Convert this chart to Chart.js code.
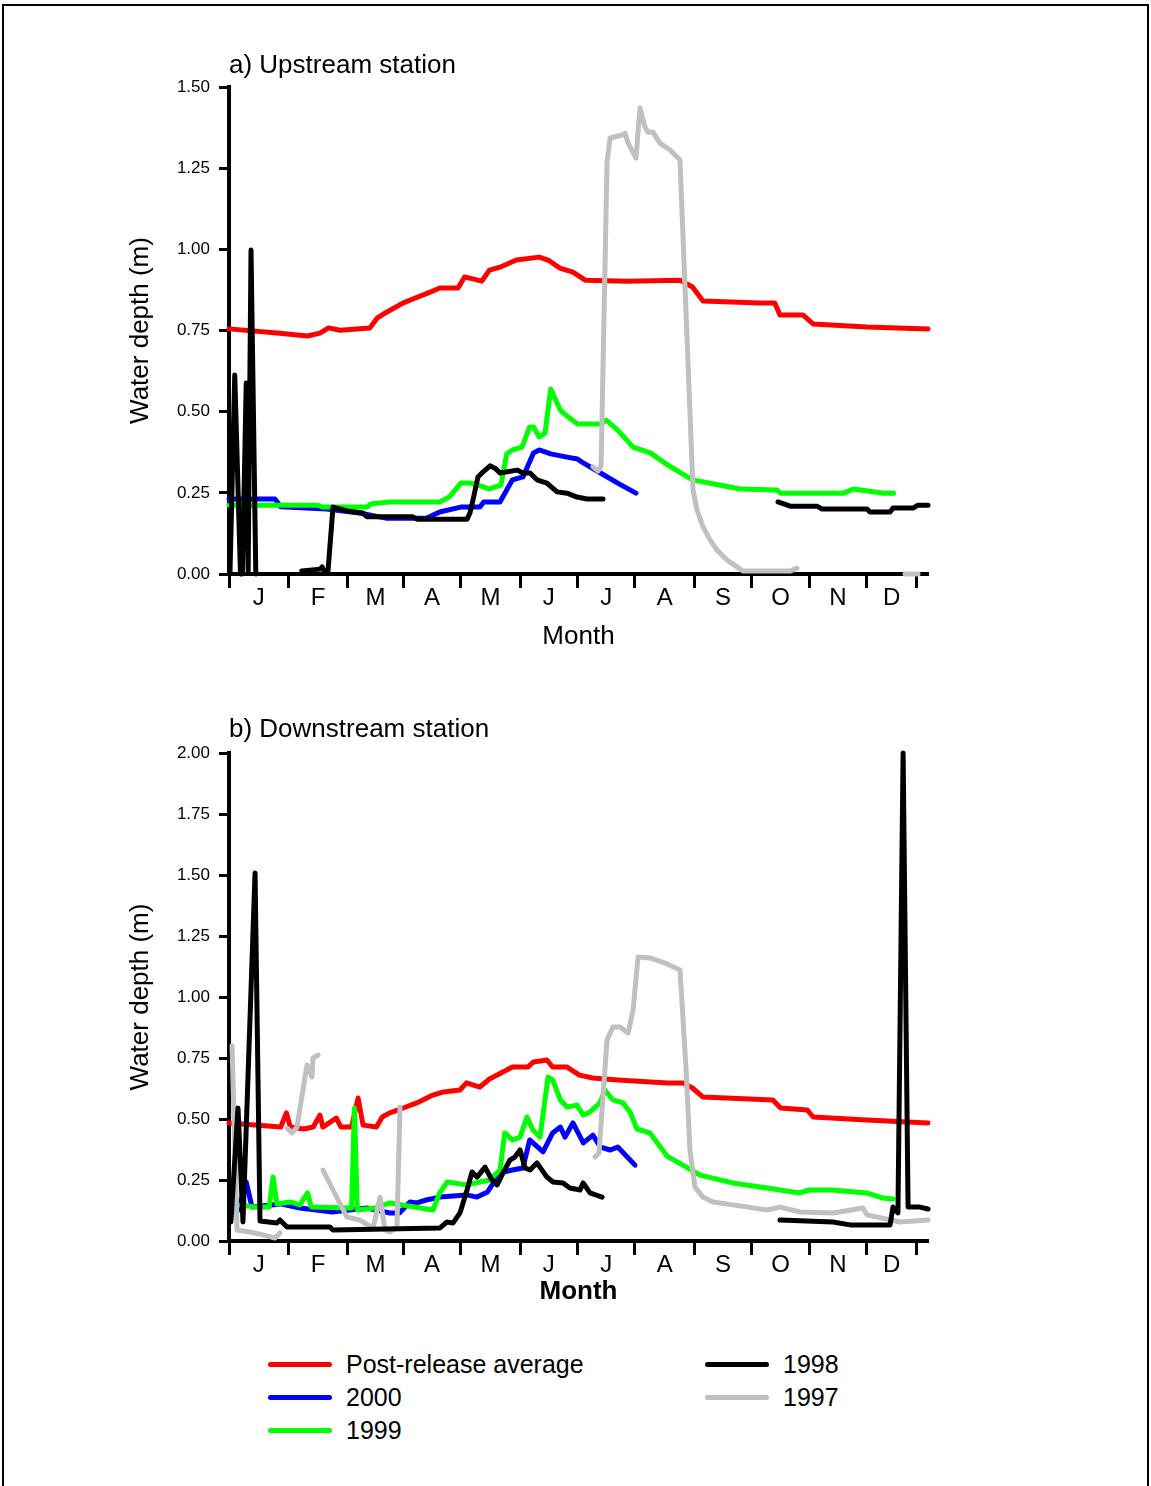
<!DOCTYPE html>
<html>
<head>
<meta charset="utf-8">
<title>Water depth</title>
<script src="https://cdn.jsdelivr.net/npm/chart.js@4.4.1/dist/chart.umd.min.js"></script>
<style>
  body { margin: 0; background: #fff; font-family: "Liberation Sans", Arial, sans-serif; }
  #page { position: relative; width: 1151px; height: 1486px; overflow: hidden; background: #fff; }
  #frame { position: absolute; left: 2px; top: 4px; width: 1147px; height: 1500px; border: 2px solid #000; box-sizing: border-box; }
  canvas { position: absolute; left: 0; }
  #up-chart { top: 0; }
  #down-chart { top: 660px; }
  .key-line { position: absolute; width: 64px; height: 5px; border-radius: 3px; }
  .key-text { position: absolute; font-size: 25px; line-height: 30px; color: #000; white-space: nowrap; }
</style>
</head>
<body>
<div id="page">
  <div id="frame"></div>
  <canvas id="up-chart" width="1151" height="652"></canvas>
  <canvas id="down-chart" width="1151" height="647"></canvas>
  <div id="legend"></div>
</div>
<script>
'use strict';
// ***** GLOBALS *****
let fontFamily = '"Liberation Sans", Arial, sans-serif';
let monthLetters = ['J', 'F', 'M', 'A', 'M', 'J', 'J', 'A', 'S', 'O', 'N', 'D'];
let monthBreaks = [0, 31, 62, 91, 121, 152, 182, 212, 243, 273, 303, 333, 359]; // day of year where each tick sits
let upDepthTicks = [0, 0.25, 0.5, 0.75, 1, 1.25, 1.5];
let downDepthTicks = [0, 0.25, 0.5, 0.75, 1, 1.25, 1.5, 1.75, 2];

// ***** UPSTREAM DATA (day of year, depth in m; null = no record) *****
let upPostDays = [0, 25, 41, 47.5, 52, 58, 73.6, 77.3, 82.5, 91, 96, 105, 110, 119.6, 123, 132, 136, 141.5, 150, 162,
  166.6, 172.8, 179.6, 186, 207.8, 235.5, 242, 247.5, 277, 285, 287.7, 299.7, 305, 333, 365];
let upPostDepth = [0.755, 0.742, 0.733, 0.742, 0.758, 0.751, 0.758, 0.788, 0.807, 0.835, 0.847, 0.868, 0.881, 0.881, 0.915, 0.902, 0.936, 0.945, 0.967, 0.976,
  0.967, 0.942, 0.930, 0.905, 0.902, 0.905, 0.884, 0.841, 0.835, 0.835, 0.798, 0.798, 0.770, 0.761, 0.755];

let up2000Days = [0, 24, 27, 51, 68, 82, 103, 110, 121, 131, 133, 141.5, 148, 153.5, 159, 162, 168, 176.5, 182, 185, 194, 203, 212.5];
let up2000Depth = [0.231, 0.231, 0.207, 0.200, 0.188, 0.172, 0.172, 0.191, 0.206, 0.206, 0.222, 0.222, 0.290, 0.299, 0.373, 0.382, 0.370, 0.360, 0.354, 0.342, 0.311, 0.280, 0.249];

let up1999Days = [0, 46, 49, 72, 74, 84, 110, 115, 121, 126, 130, 136, 142, 145, 148, 153, 157, 159, 162, 165,
  168, 173, 177, 182, 194, 197, 203, 211, 220, 229, 242, 256, 267, 286, 288, 321, 326, 330, 342, 347];
let up1999Depth = [0.212, 0.212, 0.206, 0.206, 0.216, 0.222, 0.222, 0.237, 0.280, 0.280, 0.274, 0.262, 0.274, 0.370, 0.382, 0.391, 0.453, 0.453, 0.422, 0.434,
  0.570, 0.505, 0.484, 0.462, 0.462, 0.474, 0.443, 0.391, 0.373, 0.336, 0.290, 0.274, 0.262, 0.259, 0.249, 0.249, 0.262, 0.259, 0.249, 0.249];

let up1998Days = [0.5, 3, 6, 7, 9, 10, 11.5, 14, 26, 38, 47.5, 48.6, 49.6, 51.7, 54.3, 61.6, 70, 72, 96, 98.2,
  124.3, 125.8, 127.4, 130, 132.6, 136.3, 138.9, 141.5, 150.4, 153.5, 157.2, 160.8, 166, 171.3, 176.5, 181.7, 187, 195.3, 240, 286.7,
  293, 307, 309.7, 333.2, 334.7, 345.2, 346.7, 357.2, 359.8, 365];
let up1998Depth = [0, 0.613, 0, 0, 0.588, 0.01, 0.998, 0, null, 0.009, 0.015, 0.022, 0.009, 0.009, 0.206, 0.194, 0.188, 0.176, 0.176, 0.169,
  0.169, 0.188, 0.228, 0.299, 0.314, 0.333, 0.326, 0.311, 0.320, 0.311, 0.311, 0.290, 0.280, 0.253, 0.249, 0.237, 0.231, 0.231, null, 0.222,
  0.209, 0.209, 0.200, 0.200, 0.191, 0.191, 0.203, 0.203, 0.212, 0.212];

let up1997Days = [190, 192.7, 194.3, 197.4, 199, 205.2, 206.8, 208.4, 212.5, 214.6, 217.2, 218.8, 221.4, 225, 230.3, 235.5, 242.3, 244.4, 247.5, 251.2,
  254.8, 260, 265.3, 268.4, 293, 296.6, 325, 353, 359.8];
let up1997Depth = [0.330, 0.317, 0.333, 1.269, 1.343, 1.352, 1.358, 1.327, 1.281, 1.435, 1.377, 1.361, 1.361, 1.327, 1.306, 1.275, 0.259, 0.197, 0.145, 0.105,
  0.074, 0.043, 0.022, 0.009, 0.009, 0.018, null, 0, 0];

// ***** DOWNSTREAM DATA *****
let downPostDays = [0, 27, 30, 32, 39, 44, 47.5, 49, 56, 58.5, 64, 67.4, 70, 77, 80, 84, 91, 98, 106.5, 112,
  120.6, 124, 131, 136, 148, 156, 159, 166, 169, 176.5, 183, 190, 203, 229, 237, 242, 247.5, 284, 288, 302, 305, 333, 365];
let downPostDepth = [0.484, 0.467, 0.525, 0.467, 0.459, 0.467, 0.516, 0.467, 0.504, 0.467, 0.467, 0.586, 0.475, 0.467, 0.508, 0.525, 0.545, 0.566, 0.598, 0.611,
  0.619, 0.648, 0.631, 0.664, 0.713, 0.713, 0.734, 0.742, 0.713, 0.713, 0.680, 0.668, 0.660, 0.648, 0.648, 0.627, 0.590, 0.578, 0.545, 0.537, 0.508, 0.496, 0.484];

let down2000Days = [3, 5, 9, 12, 27, 37, 54, 72, 84, 89, 94.5, 98, 103, 110, 124, 129.5, 135, 141.5, 148, 153.5,
  157, 164, 169, 173, 175.5, 179.6, 185, 190, 194, 199, 203, 208, 212];
let down2000Depth = [0.119, 0.127, 0.242, 0.139, 0.152, 0.135, 0.119, 0.135, 0.115, 0.115, 0.160, 0.156, 0.168, 0.180, 0.189, 0.180, 0.201, 0.279, 0.291, 0.299,
  0.414, 0.365, 0.443, 0.467, 0.426, 0.484, 0.402, 0.434, 0.385, 0.373, 0.385, 0.344, 0.311];

let down1999Days = [5, 14, 21, 23, 25, 32, 37, 41, 43, 64, 65.5, 67, 76, 84, 106.5, 110, 114, 124, 136, 141.5,
  144, 148, 152, 155.6, 158.7, 162.4, 166.6, 169, 173, 176.5, 181.7, 185, 188.5, 193.7, 196.3, 200.5, 205.7, 209.4, 213, 219.8,
  228.7, 237, 246, 263, 281, 298, 303, 315, 333, 341.5, 346.7];
let down1999Depth = [0.148, 0.139, 0.139, 0.262, 0.152, 0.160, 0.148, 0.197, 0.139, 0.135, 0.545, 0.127, 0.135, 0.156, 0.127, 0.197, 0.242, 0.230, 0.250, 0.291,
  0.443, 0.414, 0.426, 0.508, 0.455, 0.426, 0.672, 0.660, 0.578, 0.549, 0.557, 0.516, 0.529, 0.566, 0.619, 0.578, 0.566, 0.529, 0.459, 0.443,
  0.348, 0.311, 0.270, 0.238, 0.217, 0.197, 0.209, 0.209, 0.197, 0.176, 0.172];

let down1998Days = [1, 4.7, 7.3, 13.6, 16.2, 25, 26.6, 30.3, 52.7, 54.3, 110, 113.8, 117, 120.6, 124.3, 126.9, 129.5, 133.7, 137.3, 140,
  143.1, 146.7, 149.3, 152, 154.6, 157.2, 160.8, 166, 169.2, 174.4, 178, 183.3, 184.9, 188.5, 194.8, 240, 287.7, 315.4, 324.3, 345.2,
  346.7, 349.3, 352, 354.6, 360.8, 365];
let down1998Depth = [0.078, 0.545, 0.078, 1.508, 0.082, 0.074, 0.086, 0.057, 0.057, 0.045, 0.053, 0.078, 0.074, 0.115, 0.209, 0.283, 0.262, 0.303, 0.250, 0.230,
  0.279, 0.332, 0.344, 0.373, 0.299, 0.291, 0.320, 0.262, 0.242, 0.238, 0.217, 0.209, 0.238, 0.197, 0.180, null, 0.086, 0.078, 0.066, 0.066,
  0.139, 0.115, 2.0, 0.139, 0.139, 0.131];

let down1997Days = [1.6, 4.2, 11, 17.8, 24, 26.6, 28, 30.3, 32.9, 35.5, 40.7, 43.3, 43.9, 46.5, 48, 49.1, 54.3, 61.6, 68.4, 75.2,
  78.9, 81.5, 84, 87.7, 89.3, 140, 191.1, 193.2, 197.4, 200.5, 204.2, 208.4, 211, 213.6, 219.8, 227.7, 235.5, 238.6, 240.7, 243.3,
  247.5, 252.7, 263.2, 281, 287.7, 298.2, 315.4, 331, 333.2, 350.4, 365];
let down1997Depth = [0.80, 0.045, 0.037, 0.025, 0.012, 0.033, null, 0.463, 0.443, 0.467, 0.721, 0.672, 0.750, 0.762, null, 0.291, 0.209, 0.098, 0.086, 0.053,
  0.180, 0.045, 0.037, 0.057, 0.549, null, 0.344, 0.361, 0.824, 0.877, 0.877, 0.852, 0.947, 1.164, 1.160, 1.139, 1.111, 0.713, 0.373, 0.221,
  0.180, 0.160, 0.148, 0.127, 0.139, 0.119, 0.115, 0.135, 0.107, 0.078, 0.086];

// ***** SERIES STYLE *****
// order: lower number is drawn on top
let seriesStyle = [
  { name: 'Post-release average', color: '#ff0000', order: 5 },
  { name: '2000', color: '#0000ff', order: 4 },
  { name: '1999', color: '#00ff00', order: 3 },
  { name: '1998', color: '#000000', order: 1 },
  { name: '1997', color: '#c0c0c0', order: 2 }
];

// Build x ticks: month boundaries carry tick marks, mid points carry letters
function buildMonthTicks() {
  let ticks = [];
  for (let i = 0; i < monthBreaks.length; i++) {
    ticks.push({ value: monthBreaks[i], text: '', isBreak: true });
    if (i < monthLetters.length) {
      ticks.push({ value: (monthBreaks[i] + monthBreaks[i + 1]) / 2, text: monthLetters[i], isBreak: false });
    }
  }
  return ticks;
}

function toPoints(days, depth) {
  return days.map((d, i) => ({ x: d, y: depth[i] }));
}

function renderPanel(canvas, panel) {
  let monthTicks = buildMonthTicks();

  let datasets = panel.series.map((pair, i) => ({
    label: seriesStyle[i].name,
    data: toPoints(pair[0], pair[1]),
    borderColor: seriesStyle[i].color,
    backgroundColor: seriesStyle[i].color,
    borderWidth: 5,
    pointRadius: 0,
    tension: 0,
    spanGaps: false,
    clip: false,
    order: seriesStyle[i].order,
    borderJoinStyle: 'round',
    borderCapStyle: 'round'
  }));

  let chartConfig = {
    type: 'line',
    data: { datasets: datasets },
    options: {
      responsive: false,
      animation: false,
      devicePixelRatio: 1,
      layout: { padding: { left: 120, right: 223, top: 0, bottom: 0 } },
      plugins: {
        legend: { display: false },
        tooltip: { enabled: false },
        title: {
          display: true,
          text: panel.title,
          align: 'start',
          fullSize: false,
          color: '#000',
          font: { family: fontFamily, size: 26, weight: 'normal' },
          padding: { top: panel.titleTop, bottom: panel.titleBottom }
        }
      },
      scales: {
        x: {
          type: 'linear',
          min: 0,
          max: 365,
          afterBuildTicks: (scale) => { scale.ticks = monthTicks.map((t) => Object.assign({}, t)); },
          afterFit: (scale) => { scale.height = panel.xHeight; },
          ticks: {
            autoSkip: false,
            maxRotation: 0,
            padding: -4,
            color: '#000',
            font: { family: fontFamily, size: 24 },
            callback: (value, index) => monthTicks[index] ? monthTicks[index].text : ''
          },
          grid: {
            drawOnChartArea: false,
            drawTicks: true,
            tickLength: 14,
            tickWidth: 3,
            tickColor: (ctx) => (ctx.tick && ctx.tick.isBreak) ? '#000' : 'rgba(0,0,0,0)'
          },
          border: { display: true, color: '#000', width: 4 },
          title: {
            display: true,
            text: 'Month',
            color: '#000',
            font: { family: fontFamily, size: 26, weight: panel.monthWeight },
            padding: { top: 0, bottom: 0 }
          }
        },
        y: {
          type: 'linear',
          min: 0,
          max: panel.yTicks[panel.yTicks.length - 1],
          afterBuildTicks: (scale) => { scale.ticks = panel.yTicks.map((v) => ({ value: v })); },
          afterFit: (scale) => { scale.width = 109; },
          ticks: {
            padding: 9,
            color: '#000',
            font: { family: fontFamily, size: 17 },
            callback: (value) => Number(value).toFixed(2)
          },
          grid: {
            drawOnChartArea: false,
            drawTicks: true,
            tickLength: 10,
            tickWidth: 3,
            tickColor: '#000'
          },
          border: { display: true, color: '#000', width: 4 },
          title: {
            display: true,
            text: 'Water depth (m)',
            color: '#000',
            font: { family: fontFamily, size: 26, weight: 'normal' },
            padding: { top: 5.4, bottom: 0 }
          }
        }
      }
    }
  };

  new Chart(canvas, chartConfig);
}

// ***** LEGEND (html, two columns) *****
function renderLegend() {
  let legend = document.getElementById('legend');
  let spots = [
    { lineX: 268, textX: 346, y: 1364 },
    { lineX: 268, textX: 346, y: 1397 },
    { lineX: 268, textX: 346, y: 1430 },
    { lineX: 705, textX: 783, y: 1364 },
    { lineX: 705, textX: 783, y: 1397 }
  ];
  seriesStyle.forEach((s, i) => {
    let line = document.createElement('div');
    line.className = 'key-line';
    line.style.left = spots[i].lineX + 'px';
    line.style.top = (spots[i].y - 2.5) + 'px';
    line.style.background = s.color;
    legend.appendChild(line);

    let text = document.createElement('div');
    text.className = 'key-text';
    text.style.left = spots[i].textX + 'px';
    text.style.top = (spots[i].y - 15) + 'px';
    text.textContent = s.name;
    legend.appendChild(text);
  });
}

let startApp = () => {
  renderPanel(document.getElementById('up-chart'), {
    title: 'a) Upstream station',
    titleTop: 50.4,
    titleBottom: 5.4,
    xHeight: 78,
    monthWeight: 'normal',
    yTicks: upDepthTicks,
    series: [[upPostDays, upPostDepth], [up2000Days, up2000Depth], [up1999Days, up1999Depth], [up1998Days, up1998Depth], [up1997Days, up1997Depth]]
  });
  renderPanel(document.getElementById('down-chart'), {
    title: 'b) Downstream station',
    titleTop: 54.4,
    titleBottom: 7.4,
    xHeight: 66,
    monthWeight: 'bold',
    yTicks: downDepthTicks,
    series: [[downPostDays, downPostDepth], [down2000Days, down2000Depth], [down1999Days, down1999Depth], [down1998Days, down1998Depth], [down1997Days, down1997Depth]]
  });
  renderLegend();
};

startApp();
</script>
</body>
</html>
